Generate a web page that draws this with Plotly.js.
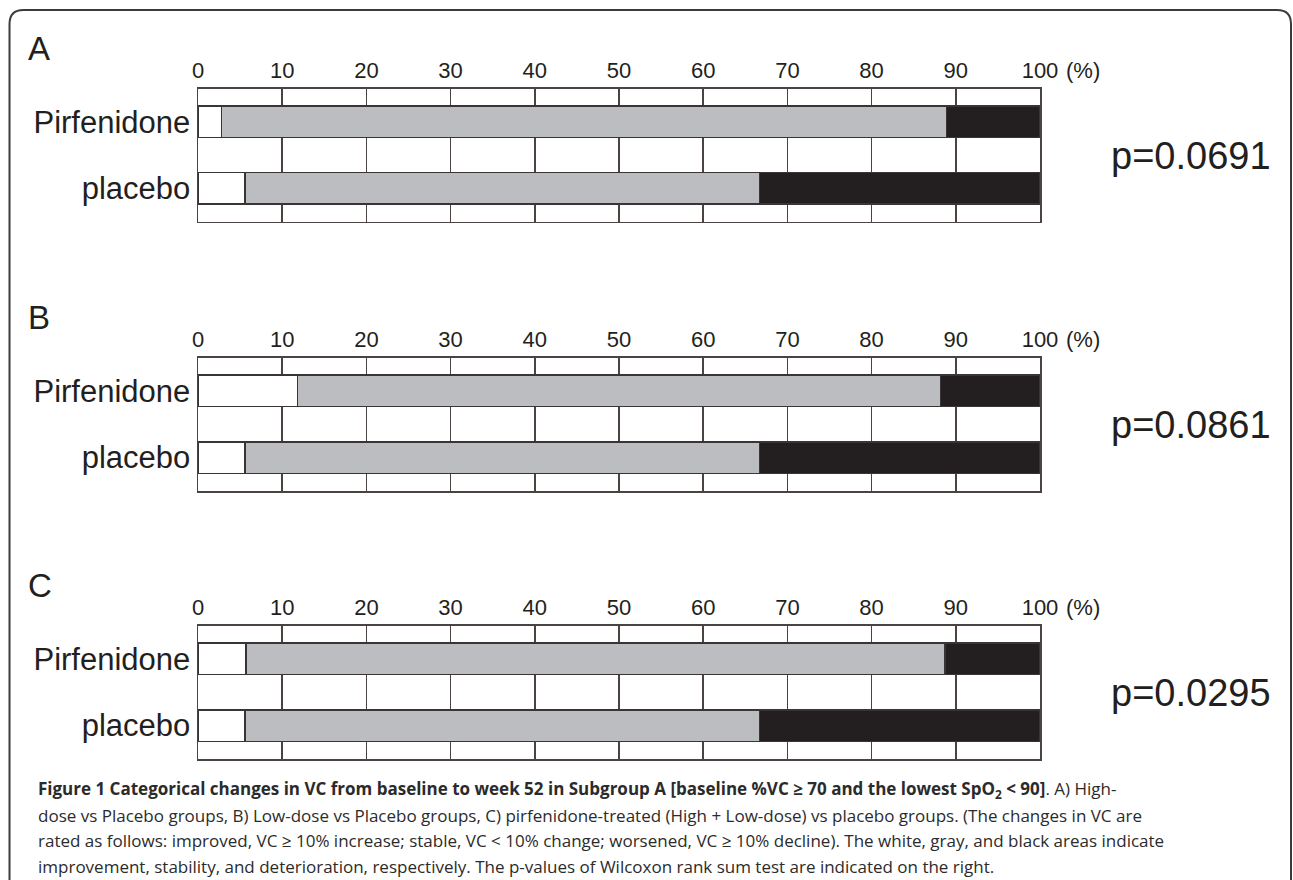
<!DOCTYPE html>
<html>
<head>
<meta charset="utf-8">
<script src="https://cdn.plot.ly/plotly-3.0.1.min.js"></script>
<style>
html,body{margin:0;padding:0;background:#fff;}
#chart{width:1293px;height:880px;}
</style>
</head>
<body>
<div id="chart"></div>
<script>
// ---- data (percent of patients) ----
const groups = ['Pirfenidone', 'placebo'];
const panelLetters = ['A', 'B', 'C'];
const pValues = ['p=0.0691', 'p=0.0861', 'p=0.0295'];
const categories = ['improved', 'stable', 'worsened'];
// A) High-dose vs Placebo
const improvedA = [2.8, 5.6];
const stableA   = [86.1, 61.1];
const worsenedA = [11.1, 33.3];
// B) Low-dose vs Placebo
const improvedB = [11.8, 5.6];
const stableB   = [76.4, 61.1];
const worsenedB = [11.8, 33.3];
// C) pirfenidone-treated (High + Low-dose) vs placebo
const improvedC = [5.7, 5.6];
const stableC   = [83.0, 61.1];
const worsenedC = [11.3, 33.3];
const xTicks = [0, 10, 20, 30, 40, 50, 60, 70, 80, 90, 100];
const xTickText = ['0', '10', '20', '30', '40', '50', '60', '70', '80', '90', '100'];

const panels = [
  [improvedA, stableA, worsenedA],
  [improvedB, stableB, worsenedB],
  [improvedC, stableC, worsenedC]
];

// ---- styling ----
const W = 1293, H = 880;
const px = x => x / W;
const py = y => 1 - y / H;
const fills = ['#ffffff', '#bcbdc0', '#231f20'];
const edge = '#3a3435';
const gridC = '#4a4342';
const textC = '#231f20';
const FONT = 'Liberation Sans, Arial, Helvetica, sans-serif';
// panel pixel boxes (top, bottom)
const boxes = [[88.5, 221.5], [357.5, 491], [625.5, 759]];
const xLeft = 198, xRight = 1040;

const traces = [];
const layout = {
  width: W, height: H,
  margin: {l: 0, r: 0, t: 0, b: 0},
  paper_bgcolor: '#fff', plot_bgcolor: '#fff',
  barmode: 'stack',
  bargap: 0.53,
  showlegend: false,
  annotations: [],
  shapes: []
};

panels.forEach((series, i) => {
  const sfx = i === 0 ? '' : String(i + 1);
  series.forEach((vals, k) => {
    traces.push({
      type: 'bar', orientation: 'h',
      name: categories[k],
      y: groups, x: vals,
      xaxis: 'x' + sfx, yaxis: 'y' + sfx,
      marker: {color: fills[k], line: {color: edge, width: 1.5}},
      hoverinfo: 'x+y+name'
    });
  });
  const [t, b] = boxes[i];
  layout['xaxis' + sfx] = {
    domain: [px(xLeft), px(xRight)],
    anchor: 'y' + sfx,
    side: 'top',
    range: [0, 100],
    tickmode: 'array', tickvals: xTicks, ticktext: xTickText,
    ticks: '', showgrid: true, gridcolor: gridC, gridwidth: 1.5,
    showline: true, mirror: true, linecolor: gridC, linewidth: 1.5,
    zeroline: false,
    tickfont: {family: FONT, size: 22, color: textC},
    fixedrange: true
  };
  layout['yaxis' + sfx] = {
    domain: [py(b), py(t)],
    anchor: 'x' + sfx,
    type: 'category',
    categoryorder: 'array', categoryarray: groups,
    range: [1.5, -0.5],
    ticks: '', showgrid: false,
    showline: true, mirror: true, linecolor: gridC, linewidth: 1.5,
    tickfont: {family: FONT, size: 31, color: textC},
    ticklabelstandoff: 0,
    fixedrange: true
  };
  // panel letter
  layout.annotations.push({
    xref: 'paper', yref: 'paper', x: px(26), y: py(t - 40),
    xanchor: 'left', yanchor: 'middle', showarrow: false,
    text: panelLetters[i], font: {family: FONT, size: 33, color: textC}
  });
  // (%) unit
  layout.annotations.push({
    xref: 'paper', yref: 'paper', x: px(1064), y: py(t - 18),
    xanchor: 'left', yanchor: 'middle', showarrow: false,
    text: '(%)', font: {family: FONT, size: 22, color: textC}
  });
  // p-value
  layout.annotations.push({
    xref: 'paper', yref: 'paper', x: px(1191), y: py((t + b) / 2 + 1),
    xanchor: 'center', yanchor: 'middle', showarrow: false,
    text: pValues[i], font: {family: FONT, size: 38, color: textC}
  });
});

// caption
const CAP = 'Open Sans, Noto Sans, sans-serif';
const capLines = [
  '<b>Figure 1 Categorical changes in VC from baseline to week 52 in Subgroup A [baseline %VC ≥ 70 and the lowest SpO<sub>2</sub> &lt; 90]</b>. A) High-',
  'dose vs Placebo groups, B) Low-dose vs Placebo groups, C) pirfenidone-treated (High + Low-dose) vs placebo groups. (The changes in VC are',
  'rated as follows: improved, VC ≥ 10% increase; stable, VC &lt; 10% change; worsened, VC ≥ 10% decline). The white, gray, and black areas indicate',
  'improvement, stability, and deterioration, respectively. The p-values of Wilcoxon rank sum test are indicated on the right.'
];
const capY = [789, 815, 840, 866];
capLines.forEach((line, j) => {
  layout.annotations.push({
    xref: 'paper', yref: 'paper', x: px(36), y: py(capY[j]),
    xanchor: 'left', yanchor: 'middle', showarrow: false, align: 'left',
    text: line, font: {family: CAP, size: 17, color: '#2b2b2b'}
  });
});

// rounded frame around the figure
const fl = 9.5, ft = 10, fr = 1291, fb = 900, rr = 14;
const framePath =
  `M ${px(fl)},${py(fb)} L ${px(fl)},${py(ft + rr)} ` +
  `Q ${px(fl)},${py(ft)} ${px(fl + rr)},${py(ft)} ` +
  `L ${px(fr - rr)},${py(ft)} ` +
  `Q ${px(fr)},${py(ft)} ${px(fr)},${py(ft + rr)} ` +
  `L ${px(fr)},${py(fb)}`;
layout.shapes.push({
  type: 'path', xref: 'paper', yref: 'paper', path: framePath,
  line: {color: '#3c3c3c', width: 2}
});

Plotly.newPlot('chart', traces, layout, {displayModeBar: false, staticPlot: true});
</script>
</body>
</html>
